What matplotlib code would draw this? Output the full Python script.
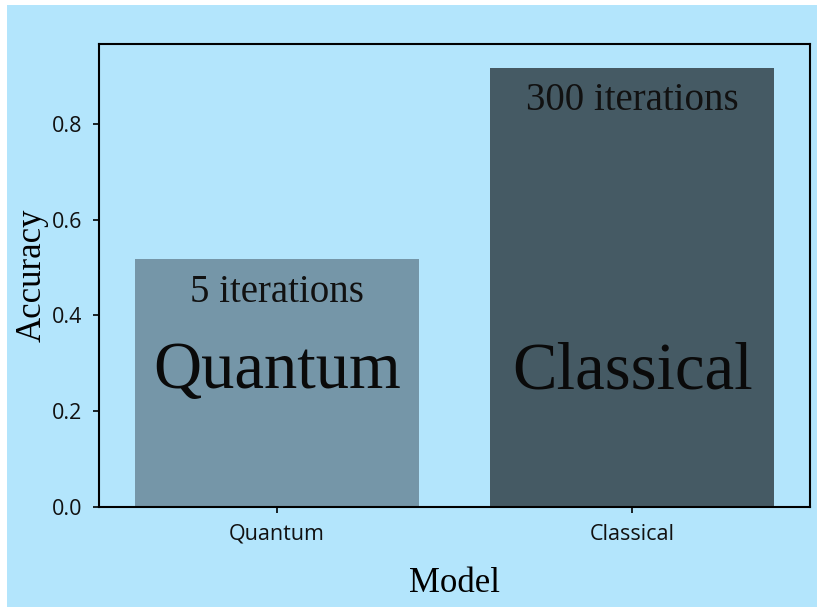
import matplotlib
matplotlib.use("Agg")
import matplotlib.pyplot as plt
from matplotlib.patches import Rectangle

models = ["Quantum", "Classical"]
accuracy = [0.518, 0.917]
iterations = ["5 iterations", "300 iterations"]
bar_colors = ["#7596a8", "#455a64"]
yticks = [0.0, 0.2, 0.4, 0.6, 0.8]

W, H = 817, 607
fig = plt.figure(figsize=(W / 100, H / 100), dpi=100, facecolor="white")
bg = "#b3e5fc"
fig.patches.append(Rectangle((7 / W, 0), 1 - 7 / W, 1 - 5 / H, transform=fig.transFigure,
                             facecolor=bg, edgecolor="none", zorder=-10))

ax = fig.add_axes([99 / W, 100 / H, 711 / W, 463 / H])
ax.set_facecolor(bg)
x = list(range(len(models)))
ax.bar(x, accuracy, width=0.8, color=bar_colors)
ax.set_xlim(-0.5, 1.5)
ax.set_ylim(0, 0.967)
ax.set_xticks(x)
ax.set_xticklabels(models)
ax.set_yticks(yticks)
ax.set_yticklabels([f"{v:.1f}" for v in yticks])
for sp in ax.spines.values():
    sp.set_linewidth(1.5)
    sp.set_color("black")
ax.tick_params(axis="both", labelsize=15.5, length=4, width=1.2, colors="black")
ax.tick_params(axis="x", pad=8)
ax.tick_params(axis="y", pad=8)
for lab in ax.get_xticklabels() + ax.get_yticklabels():
    lab.set_family("Open Sans")
    lab.set_color("#111111")

serif = "Liberation Serif"
ax.set_xlabel("Model", fontsize=25, family=serif, labelpad=16)
ax.set_ylabel("Accuracy", fontsize=25, family=serif, labelpad=2)

iter_y = [0.447, 0.85]
for xi, acc, it, iy, name in zip(x, accuracy, iterations, iter_y, models):
    ax.text(xi, iy, it, ha="center", va="center", fontsize=28, family=serif, color="#111111")
    ax.text(xi, 0.282, name, ha="center", va="center", fontsize=48, family=serif, color="#0a0a0a")

fig.savefig("out.png", dpi=100, facecolor="white")
